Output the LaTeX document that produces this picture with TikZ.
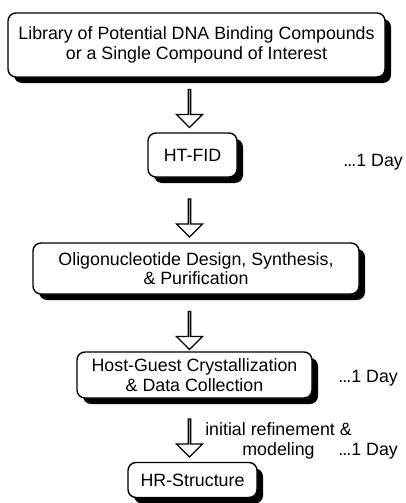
\documentclass[tikz,border=0pt]{standalone}
\usepackage{fontspec}
\setmainfont{Liberation Sans}
\usetikzlibrary{shapes.arrows,shadows}
\tikzstyle{every node}=[font=\fontsize{17.8}{19.5}\selectfont]
\tikzstyle{stage}=[draw,line width=1.4pt,rounded corners=8pt,fill=white,align=center,inner sep=0pt,
  drop shadow={shadow xshift=6pt,shadow yshift=-6pt,fill=black,opacity=1}]
\tikzstyle{flow}=[draw,line width=1.3pt,single arrow,shape border rotate=270,minimum height=38pt,
  minimum width=26pt,single arrow head extend=7pt,inner sep=0pt]
\tikzstyle{timing}=[anchor=east,inner sep=0pt]

\begin{document}
\begin{tikzpicture}[x=1pt,y=-1pt]
  \useasboundingbox (0,0) rectangle (406,503);
  \node[stage,minimum width=377pt,minimum height=64pt] (library) at (196.5,45)
    {Library of Potential DNA Binding Compounds\\or a Single Compound of Interest};
  \node[stage,minimum width=89pt,minimum height=44pt] (htfid) at (192.5,155) {HT-FID};
  \node[stage,minimum width=326pt,minimum height=51pt] (oligo) at (196,268.5)
    {Oligonucleotide Design, Synthesis,\\\& Purification};
  \node[stage,minimum width=235pt,minimum height=46pt] (hostguest) at (194.5,375)
    {Host-Guest Crystallization\\\& Data Collection};
  \node[stage,minimum width=129pt,minimum height=35pt] (hrstruct) at (192.5,480) {HR-Structure};

  \node[flow] (a1) at (189.5,108) {};
  \node[flow] (a2) at (189.5,217.5) {};
  \node[flow] (a3) at (189.5,330) {};
  \node[flow] (a4) at (189.5,437.5) {};

  \node[align=center,inner sep=0pt] (refine) at (278.5,441) {initial refinement \&\\modeling};

  \node[timing] (day1) at (403,162) {.\kern-1pt.\kern-1pt.1 Day};
  \node[timing] (day2) at (398,378) {.\kern-1pt.\kern-1pt.1 Day};
  \node[timing] (day3) at (398,451) {.\kern-1pt.\kern-1pt.1 Day};
\end{tikzpicture}
\end{document}
